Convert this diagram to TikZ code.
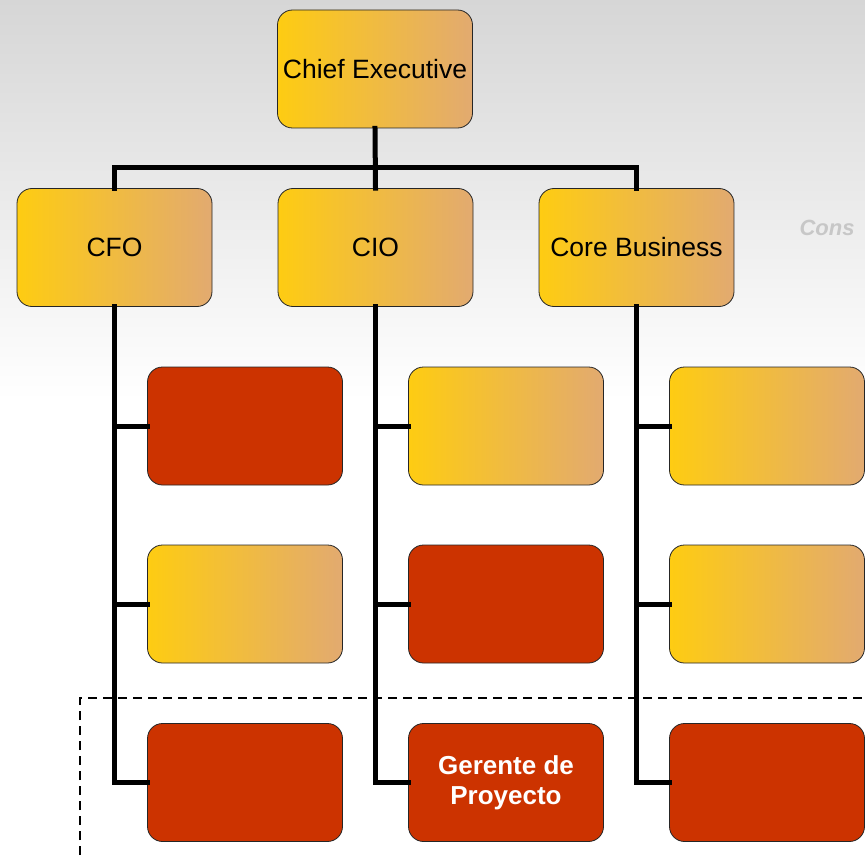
\documentclass[tikz,border=0pt]{standalone}
\usepackage{fontspec}
\setmainfont{Liberation Sans}
\definecolor{gold}{RGB}{254,204,18}
\definecolor{tan}{RGB}{226,170,112}
\definecolor{brick}{RGB}{204,51,0}
\definecolor{bgtop}{RGB}{214,214,214}
\begin{document}
\begin{tikzpicture}[x=1pt,y=-1pt,
  box/.style={rectangle,rounded corners=15pt,draw=black!85,line width=0.8pt,
    minimum width=195pt,minimum height=118pt,inner sep=2pt,align=center,
    font=\fontsize{26.5}{30}\selectfont},
  goldbox/.style={box,left color=gold,right color=tan,shading angle=90},
  redbox/.style={box,fill=brick,text=white,font=\fontsize{26}{30}\selectfont\bfseries},
  link/.style={line width=5pt,line cap=rect},
  frame/.style={line width=2.4pt,dash pattern=on 9pt off 6pt}]
\useasboundingbox (0,0) rectangle (865,856);
% background
\fill[white] (0,0) rectangle (865,856);
\shade[top color=bgtop,bottom color=white] (0,0) rectangle (865,400);
\node[anchor=west,text=black!22,font=\fontsize{22}{26}\selectfont\bfseries\itshape] (wm) at (796,228) {Cons};
% dashed frame
\coordinate (fa) at (80,870);
\coordinate (fb) at (80,698);
\coordinate (fc) at (880,698);
\draw[frame] (fa) -- (fb) -- (fc);
% nodes
\node[goldbox] (ce) at (375,69) {Chief Executive};
\node[goldbox] (cfo) at (114.5,247.5) {CFO};
\node[goldbox] (cio) at (375.5,247.5) {CIO};
\node[goldbox] (core) at (636.5,247.5) {Core Business};
\node[redbox] (a1) at (245,426) {};
\node[goldbox] (a2) at (245,604) {};
\node[redbox] (a3) at (245,782.5) {};
\node[goldbox] (b1) at (506,426) {};
\node[redbox] (b2) at (506,604) {};
\node[redbox] (b3) at (506,782.5) {Gerente de\\Proyecto};
\node[goldbox] (c1) at (767,426) {};
\node[goldbox] (c2) at (767,604) {};
\node[redbox] (c3) at (767,782.5) {};
% connectors
\coordinate (bus) at (375,168);
\draw[link] (ce.south) -- (cio.north);
\draw[link] (cfo.north) -- (cfo.north |- bus) -- (core.north |- bus) -- (core.north);
\draw[link] (cfo.south) |- (a3.west);
\draw[link] (cfo.south |- a1.west) -- (a1.west);
\draw[link] (cfo.south |- a2.west) -- (a2.west);
\draw[link] (cio.south) |- (b3.west);
\draw[link] (cio.south |- b1.west) -- (b1.west);
\draw[link] (cio.south |- b2.west) -- (b2.west);
\draw[link] (core.south) |- (c3.west);
\draw[link] (core.south |- c1.west) -- (c1.west);
\draw[link] (core.south |- c2.west) -- (c2.west);
\end{tikzpicture}
\end{document}
